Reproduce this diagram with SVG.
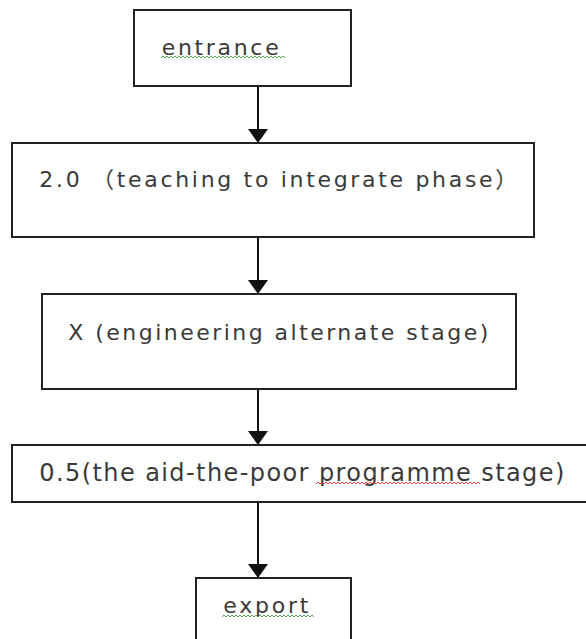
<svg xmlns="http://www.w3.org/2000/svg" width="586" height="639" viewBox="0 0 586 639">
  <style>
    .box { fill: #ffffff; stroke: #222222; stroke-width: 2; }
    .lbl { font-family: "DejaVu Sans", "Noto Sans CJK SC", sans-serif; font-size: 22px; fill: #3a3a3a; }
    .conn { stroke: #111111; stroke-width: 2; fill: none; }
    .sq-g { stroke: #3c9f3c; stroke-width: 0.9; fill: none; }
    .sq-r { stroke: #e03030; stroke-width: 0.9; fill: none; }
  </style>
  <defs>
    <marker id="arrow" viewBox="0 0 14 20" refX="14" refY="10" markerWidth="14" markerHeight="20" markerUnits="userSpaceOnUse" orient="auto">
      <path d="M0 0 L14 10 L0 20 Z" fill="#111111"/>
    </marker>
  </defs>
  <rect x="0" y="0" width="586" height="639" fill="#ffffff"/>

  <g id="connectors">
    <line class="conn" x1="258" y1="86" x2="258" y2="143" marker-end="url(#arrow)"/>
    <line class="conn" x1="258" y1="237" x2="258" y2="294" marker-end="url(#arrow)"/>
    <line class="conn" x1="258" y1="389" x2="258" y2="445" marker-end="url(#arrow)"/>
    <line class="conn" x1="258" y1="502" x2="258" y2="578" marker-end="url(#arrow)"/>
  </g>

  <g id="node-entrance">
    <rect class="box" x="134" y="10" width="217" height="76"/>
    <text class="lbl" x="161.7" y="55" textLength="117" lengthAdjust="spacing">entrance</text>
    <path class="sq-g" d="M161 58 l2 -2 l2 2 l2 -2 l2 2 l2 -2 l2 2 l2 -2 l2 2 l2 -2 l2 2 l2 -2 l2 2 l2 -2 l2 2 l2 -2 l2 2 l2 -2 l2 2 l2 -2 l2 2 l2 -2 l2 2 l2 -2 l2 2 l2 -2 l2 2 l2 -2 l2 2 l2 -2 l2 2 l2 -2 l2 2 l2 -2 l2 2 l2 -2 l2 2 l2 -2 l2 2 l2 -2 l2 2 l2 -2 l2 2 l2 -2 l2 2 l2 -2 l2 2 l2 -2 l2 2 l2 -2 l2 2 l2 -2 l2 2 l2 -2 l2 2 l2 -2 l2 2 l2 -2 l2 2 l2 -2 l2 2 l2 -2 l2 2"/>
  </g>

  <g id="node-teaching">
    <rect class="box" x="12" y="143" width="522" height="94"/>
    <text class="lbl" x="39.3" y="187" textLength="478" lengthAdjust="spacing">2.0 （teaching to integrate phase）</text>
  </g>

  <g id="node-engineering">
    <rect class="box" x="42" y="294" width="474" height="95"/>
    <text class="lbl" x="68.3" y="340" textLength="420" lengthAdjust="spacing">X (engineering alternate stage)</text>
  </g>

  <g id="node-aid">
    <rect class="box" x="12" y="445" width="590" height="57"/>
    <text class="lbl" x="39.3" y="481" style="font-size:24px" textLength="525" lengthAdjust="spacing">0.5(the aid-the-poor programme stage)</text>
    <path class="sq-r" d="M316 484 l2 -2 l2 2 l2 -2 l2 2 l2 -2 l2 2 l2 -2 l2 2 l2 -2 l2 2 l2 -2 l2 2 l2 -2 l2 2 l2 -2 l2 2 l2 -2 l2 2 l2 -2 l2 2 l2 -2 l2 2 l2 -2 l2 2 l2 -2 l2 2 l2 -2 l2 2 l2 -2 l2 2 l2 -2 l2 2 l2 -2 l2 2 l2 -2 l2 2 l2 -2 l2 2 l2 -2 l2 2 l2 -2 l2 2 l2 -2 l2 2 l2 -2 l2 2 l2 -2 l2 2 l2 -2 l2 2 l2 -2 l2 2 l2 -2 l2 2 l2 -2 l2 2 l2 -2 l2 2 l2 -2 l2 2 l2 -2 l2 2 l2 -2 l2 2 l2 -2 l2 2 l2 -2 l2 2 l2 -2 l2 2 l2 -2 l2 2 l2 -2 l2 2 l2 -2 l2 2 l2 -2 l2 2 l2 -2 l2 2 l2 -2 l2 2"/>
  </g>

  <g id="node-export">
    <rect class="box" x="196" y="578" width="155" height="80"/>
    <text class="lbl" x="223.3" y="613" textLength="85" lengthAdjust="spacing">export</text>
    <path class="sq-g" d="M222 617 l2 -2 l2 2 l2 -2 l2 2 l2 -2 l2 2 l2 -2 l2 2 l2 -2 l2 2 l2 -2 l2 2 l2 -2 l2 2 l2 -2 l2 2 l2 -2 l2 2 l2 -2 l2 2 l2 -2 l2 2 l2 -2 l2 2 l2 -2 l2 2 l2 -2 l2 2 l2 -2 l2 2 l2 -2 l2 2 l2 -2 l2 2 l2 -2 l2 2 l2 -2 l2 2 l2 -2 l2 2 l2 -2 l2 2 l2 -2 l2 2 l2 -2 l2 2"/>
  </g>
</svg>
